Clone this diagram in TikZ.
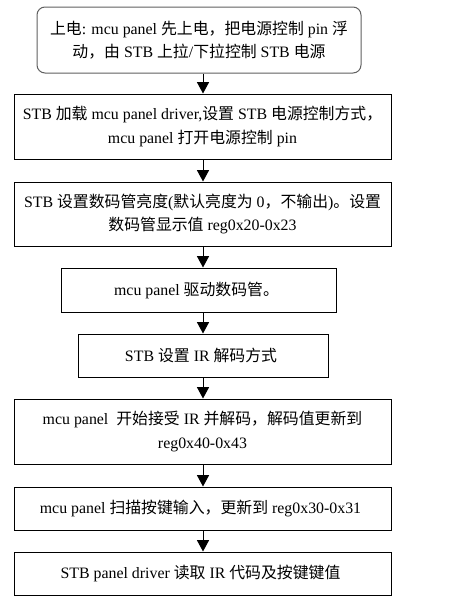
\documentclass[tikz,border=0pt]{standalone}
\usepackage{fontspec}
\setmainfont{Liberation Serif}
\newfontfamily\cjk{Noto Sans CJK SC}
\usepackage{tikz}
\usetikzlibrary{arrows.meta, positioning, calc}
\newcommand{\zh}[1]{{\cjk #1}}
\definecolor{startgray}{RGB}{96, 96, 96}

\begin{document}
\begin{tikzpicture}[
    x=0.75pt, y=-0.75pt,
    stepbox/.style={rectangle, draw=black, line width=0.75pt, fill=white, align=center,
                    inner sep=0pt, font=\fontsize{11.9}{17.3}\selectfont},
    startbox/.style={stepbox, draw=startgray, rounded corners=6pt},
    flow/.style={-{Triangle[width=9pt, length=8.5pt]}, line width=0.75pt}
]
    \useasboundingbox (0, 0) rectangle (458, 603);
    \node[startbox, minimum width=243pt, minimum height=49.5pt] (p1) at (199, 40) {
        \zh{上电}: mcu panel \zh{先上电，把电源控制} pin \zh{浮}\\\zh{动，由} STB \zh{上拉}/\zh{下拉控制} STB \zh{电源}
    };
    \node[stepbox, minimum width=282.75pt, minimum height=48.75pt] (p2) at (202.5, 126.5) {
        STB \zh{加载} mcu panel driver,\zh{设置} STB \zh{电源控制方式，}\\mcu panel \zh{打开电源控制} pin
    };
    \node[stepbox, minimum width=282.75pt, minimum height=48pt] (p3) at (202.5, 214) {
        STB \zh{设置数码管亮度}(\zh{默认亮度为} 0\zh{，不输出})\zh{。设置}\\\zh{数码管显示值} reg0x20-0x23
    };
    \node[stepbox, minimum width=206.25pt, minimum height=33pt] (p4) at (198.5, 290) {
        mcu panel \zh{驱动数码管。}
    };
    \node[stepbox, minimum width=187.5pt, minimum height=32.25pt] (p5) at (203, 355.5) {
        STB \zh{设置} IR \zh{解码方式}
    };
    \node[stepbox, minimum width=282.75pt, minimum height=48.75pt] (p6) at (202.5, 431.5) {
        mcu panel \ \zh{开始接受} IR \zh{并解码，解码值更新到}\\reg0x40-0x43
    };
    \node[stepbox, minimum width=282.75pt, minimum height=32.25pt] (p7) at (202.5, 508.5) {
        mcu panel \zh{扫描按键输入，更新到} reg0x30-0x31
    };
    \node[stepbox, minimum width=282.75pt, minimum height=32.25pt] (p8) at (202.5, 573.5) {
        STB panel driver \zh{读取} IR \zh{代码及按键键值}
    };
    % arrows down the middle
    \draw[flow] (p1.south -| p5) -- (p2.north -| p5);
    \draw[flow] (p2.south -| p5) -- (p3.north -| p5);
    \draw[flow] (p3.south -| p5) -- (p4.north -| p5);
    \draw[flow] (p4.south -| p5) -- (p5.north);
    \draw[flow] (p5.south) -- (p6.north -| p5);
    \draw[flow] (p6.south -| p5) -- (p7.north -| p5);
    \draw[flow] (p7.south -| p5) -- (p8.north -| p5);
\end{tikzpicture}
\end{document}
